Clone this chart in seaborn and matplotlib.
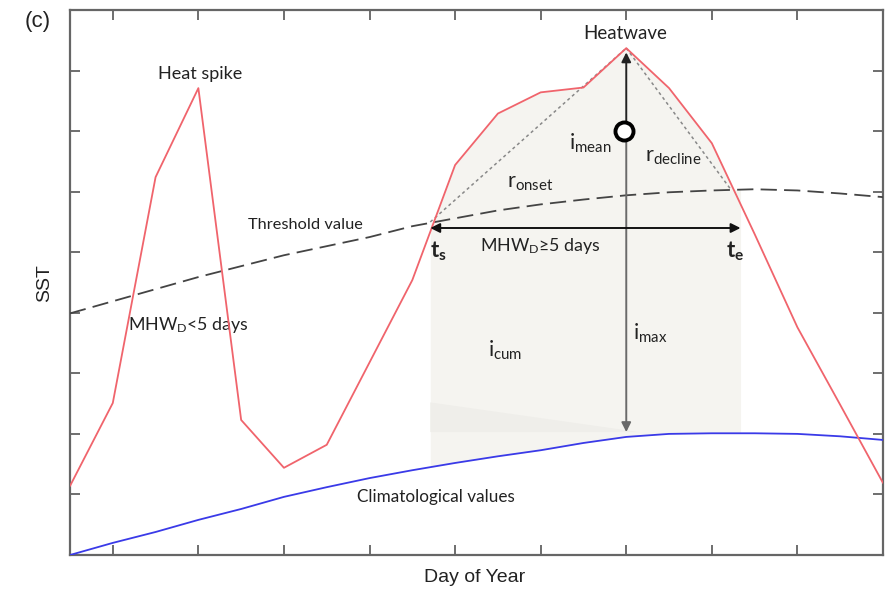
import numpy as np
import pandas as pd
import matplotlib
matplotlib.use("Agg")
import matplotlib.pyplot as plt
import seaborn as sns

# ---------------- data ----------------
day = list(range(20))
sst = [1.14, 2.51, 6.24, 7.71, 2.23, 1.44, 1.82, 3.18, 4.54, 6.44,
       7.29, 7.64, 7.72, 8.37, 7.71, 6.80, 5.30, 3.76, 2.48, 1.19]
threshold = [3.99, 4.19, 4.39, 4.59, 4.77, 4.95, 5.10, 5.25, 5.43, 5.56,
             5.69, 5.79, 5.87, 5.94, 5.99, 6.02, 6.04, 6.02, 5.97, 5.91]
climatology = [0.00, 0.20, 0.38, 0.58, 0.76, 0.96, 1.12, 1.27, 1.40, 1.52,
               1.63, 1.73, 1.85, 1.95, 2.00, 2.01, 2.01, 2.00, 1.96, 1.90]
t_start, t_end = 8.42, 15.67
peak_day = 13
xticks = [1, 3, 5, 7, 9, 11, 13, 15, 17]
yticks = [1, 2, 3, 4, 5, 6, 7, 8]

df = pd.DataFrame({"day": day, "sst": sst, "threshold": threshold,
                   "climatology": climatology})

sns.set_style("white")
plt.rcParams["font.family"] = ["Lato", "DejaVu Sans"]
plt.rcParams["mathtext.fontset"] = "custom"
plt.rcParams["mathtext.rm"] = "Lato"
plt.rcParams["mathtext.it"] = "Lato"
plt.rcParams["mathtext.bf"] = "Lato:bold"

fig = plt.figure(figsize=(8.95, 5.89), dpi=100)
ax = fig.add_axes([70 / 895, 34 / 589, 813 / 895, 545 / 589])

# shaded event area
xf = np.linspace(t_start, t_end, 400)
red_f = np.interp(xf, day, sst)
thr_f = np.interp(xf, day, threshold)
clim_f = np.interp(xf, day, climatology)
upper = np.maximum(red_f, thr_f)
ax.fill_between(xf, clim_f, upper, color="#f5f4f0", lw=0, zorder=1)
ax.fill([t_start, 13.3, t_start], [2.52, 2.03, 2.03], color="#efeeea", lw=0, zorder=1)

# lines
sns.lineplot(data=df, x="day", y="climatology", ax=ax, color="#3a3ae8", lw=1.3, zorder=3)
sns.lineplot(data=df, x="day", y="threshold", ax=ax, color="#444444", lw=1.3,
             dashes=False, zorder=3)
ax.lines[-1].set_dashes([9, 4])
sns.lineplot(data=df, x="day", y="sst", ax=ax, color="#f0646c", lw=1.3, zorder=4)

# dotted rate lines
ax.plot([t_start, peak_day], [5.50, sst[peak_day]], ls=(0, (2, 2)), color="#888888", lw=1.1, zorder=3)
ax.plot([peak_day, 15.45], [sst[peak_day], 6.03], ls=(0, (2, 2)), color="#888888", lw=1.1, zorder=3)

# arrows
ax.annotate("", xy=(peak_day, 8.30), xytext=(peak_day, 7.0),
            arrowprops=dict(arrowstyle="-|>", color="#222222", lw=1.4,
                            mutation_scale=14, shrinkA=0, shrinkB=0), zorder=5)
ax.annotate("", xy=(peak_day, 2.03), xytext=(peak_day, 7.0),
            arrowprops=dict(arrowstyle="-|>", color="#6a6a6a", lw=1.4,
                            mutation_scale=14, shrinkA=0, shrinkB=0), zorder=5)
ax.annotate("", xy=(t_start, 5.40), xytext=(t_end, 5.40),
            arrowprops=dict(arrowstyle="<|-|>", color="#111111", lw=1.4,
                            mutation_scale=14, shrinkA=0, shrinkB=0), zorder=5)
ax.plot([12.95], [7.01], marker="o", ms=13, mfc="white", mec="black", mew=2.8, zorder=6)

# labels
tc = "#222222"
ax.text(3.04, 7.95, "Heat spike", ha="center", va="center", fontsize=13, color=tc)
ax.text(12.98, 8.62, "Heatwave", ha="center", va="center", fontsize=13.5, color=tc)
ax.text(12.16, 6.80, r"$\mathrm{i_{mean}}$", ha="center", va="center", fontsize=15.5, color=tc)
ax.text(14.1, 6.57, r"$\mathrm{r_{decline}}$", ha="center", va="center", fontsize=15.5, color=tc)
ax.text(10.76, 6.14, r"$\mathrm{r_{onset}}$", ha="center", va="center", fontsize=15.5, color=tc)
ax.text(5.50, 5.45, "Threshold value", ha="center", va="center", fontsize=11.8, color=tc)
ax.text(8.62, 5.02, r"$\mathbf{t_s}$", ha="center", va="center", fontsize=16, color=tc)
ax.text(15.55, 5.02, r"$\mathbf{t_e}$", ha="center", va="center", fontsize=16, color=tc)
ax.text(10.99, 5.10, r"$\mathrm{MHW_D}$≥5 days", ha="center", va="center", fontsize=12.8, color=tc)
ax.text(2.76, 3.80, r"$\mathrm{MHW_D}$<5 days", ha="center", va="center", fontsize=12.8, color=tc)
ax.text(10.18, 3.38, r"$\mathrm{i_{cum}}$", ha="center", va="center", fontsize=15.5, color=tc)
ax.text(13.57, 3.66, r"$\mathrm{i_{max}}$", ha="center", va="center", fontsize=15.5, color=tc)
ax.text(8.54, 0.96, "Climatological values", ha="center", va="center", fontsize=12.3, color=tc)

fig.text(38 / 895, 1 - 22 / 589, "(c)", ha="center", va="center", fontsize=16,
         family="Liberation Sans", color="#222222")

# axes styling
ax.set_xlim(0, 19)
ax.set_ylim(0, 9)
ax.set_xticks(xticks)
ax.set_yticks(yticks)
ax.set_xticklabels([])
ax.set_yticklabels([])
ax.tick_params(direction="in", length=7, width=1.2, color="#555555",
               top=True, right=True, bottom=True, left=True)
for s in ax.spines.values():
    s.set_visible(True)
    s.set_color("#666666")
    s.set_linewidth(1.6)
ax.set_xlabel("")
ax.set_ylabel("")
fig.text(475 / 895, 1 - 578 / 589, "Day of Year", ha="center", va="center",
         fontsize=14, family="Liberation Sans", color="#222222")
fig.text(45 / 895, 1 - 283 / 589, "SST", ha="center", va="center", rotation=90,
         fontsize=14, family="Liberation Sans", color="#222222")

fig.savefig("out.png", dpi=100)
